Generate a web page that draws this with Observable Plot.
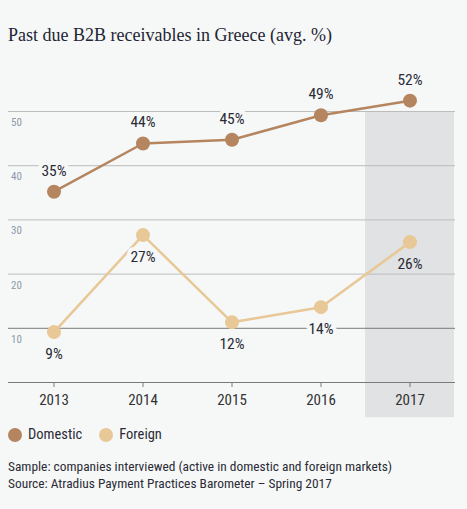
<!DOCTYPE html>
<html>
<head>
<meta charset="utf-8">
<script src="https://cdn.jsdelivr.net/npm/d3@7"></script>
<script src="https://cdn.jsdelivr.net/npm/@observablehq/plot@0.6"></script>
<style>
  html, body { margin: 0; padding: 0; background: #f6f8f8; width: 467px; height: 509px; overflow: hidden; }
  body { font-family: "Liberation Sans Narrow", "Roboto Condensed", "DejaVu Sans Condensed", sans-serif; color: #2b2b35; }
  #title { position: absolute; left: 8px; top: 25px; font-family: "Liberation Serif", serif; font-size: 18px; color: #1f2533; white-space: nowrap; }
  #chart { position: absolute; left: 0; top: 60px; }
  #legend { position: absolute; left: 8px; top: 426px; font-size: 14.5px; display: flex; gap: 17px; }
  #legend span.item { display: inline-flex; align-items: center; }
  #legend span.sw { display: inline-block; width: 14px; height: 14px; border-radius: 50%; margin-right: 6px; }
  #caption { position: absolute; left: 8px; top: 458px; font-size: 13.4px; line-height: 17px; color: #2b2b35; }
</style>
</head>
<body>
<div id="title"></div>
<div id="chart"></div>
<div id="legend"></div>
<div id="caption"></div>
<script>
const titleText = "Past due B2B receivables in Greece (avg. %)";
const years = ["2013", "2014", "2015", "2016", "2017"];
const domesticValues = [35.2, 44.1, 44.8, 49.3, 52.0];
const foreignValues = [9.3, 27.2, 11.1, 13.9, 25.9];
const domesticLabels = ["35%", "44%", "45%", "49%", "52%"];
const foreignLabels = ["9%", "27%", "12%", "14%", "26%"];
const yTicks = [10, 20, 30, 40, 50];
const highlightYear = "2017";
const seriesNames = ["Domestic", "Foreign"];
const seriesColors = ["#b5855f", "#e8c896"];
const captionLines = [
  "Sample: companies interviewed (active in domestic and foreign markets)",
  "Source: Atradius Payment Practices Barometer – Spring 2017"
];

const bg = "#f6f8f8";
const shade = "#e1e2e4";
const font = "'Liberation Sans Narrow', 'Roboto Condensed', 'DejaVu Sans Condensed', sans-serif";

const domestic = years.map((y, i) => ({year: y, value: domesticValues[i], label: domesticLabels[i]}));
const foreign = years.map((y, i) => ({year: y, value: foreignValues[i], label: foreignLabels[i]}));

document.getElementById("title").textContent = titleText;

const plot = Plot.plot({
  width: 467,
  height: 360,
  marginLeft: 8,
  marginRight: 12,
  marginTop: 51,
  marginBottom: 38,
  style: {background: "transparent", fontFamily: font},
  x: {type: "band", domain: years, padding: 0, axis: null},
  y: {domain: [0, 50], axis: null},
  marks: [
    Plot.barY([highlightYear], {x: d => d, y1: -6.5, y2: 50, fill: shade}),
    Plot.ruleY(yTicks, {stroke: d => d === 10 ? "#7a7a7a" : "#bcbcbc", strokeWidth: 1}),
    Plot.text(yTicks, {x: () => years[0], y: d => d, text: d => String(d), dx: -43, dy: 11, textAnchor: "start", fill: "#8d98aa", fontSize: 11}),
    Plot.ruleY([0], {stroke: "#7a7a7a", strokeWidth: 1.2}),
    Plot.axisX({tickSize: 5, tickPadding: 7, fontSize: 15, color: "#333", stroke: "#7a7a7a", label: null}),
    Plot.lineY(domestic, {x: "year", y: "value", stroke: seriesColors[0], strokeWidth: 2.5}),
    Plot.lineY(foreign, {x: "year", y: "value", stroke: seriesColors[1], strokeWidth: 2.5}),
    Plot.dot(domestic, {x: "year", y: "value", r: 7, fill: seriesColors[0]}),
    Plot.dot(foreign, {x: "year", y: "value", r: 7, fill: seriesColors[1]}),
    Plot.text(domestic, {x: "year", y: "value", text: "label", dy: -21, fontSize: 15.5, fill: "#2b2b35", stroke: bg, strokeWidth: 8}),
    Plot.text(foreign, {x: "year", y: "value", text: "label", dy: 22, fontSize: 15.5, fill: "#2b2b35", stroke: d => d.year === highlightYear ? shade : bg, strokeWidth: 8})
  ]
});
document.getElementById("chart").appendChild(plot);

const legend = document.getElementById("legend");
seriesNames.forEach((name, i) => {
  const item = document.createElement("span");
  item.className = "item";
  const sw = document.createElement("span");
  sw.className = "sw";
  sw.style.background = seriesColors[i];
  item.appendChild(sw);
  item.appendChild(document.createTextNode(name));
  legend.appendChild(item);
});

const caption = document.getElementById("caption");
captionLines.forEach(line => {
  const div = document.createElement("div");
  div.textContent = line;
  caption.appendChild(div);
});
</script>
</body>
</html>
